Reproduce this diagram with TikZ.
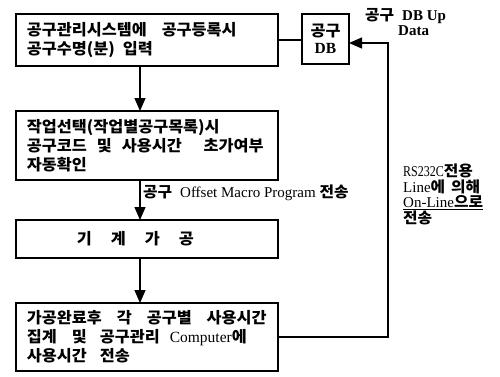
\documentclass[tikz,border=0pt]{standalone}
\usepackage{fontspec}
\setmainfont{Liberation Serif}
\newfontfamily\kr[FakeStretch=1.05]{Noto Sans CJK KR}
\newfontfamily\latf{Liberation Serif}
\newfontfamily\latcf[FakeStretch=0.8]{Liberation Serif}
\newcommand\lat{\latf\mdseries}
\newcommand\latb{\latf\bfseries}
\newcommand\latc{\latcf\mdseries}
\usetikzlibrary{arrows.meta,calc}
\newcommand\gap[1]{\hspace{#1pt}}
\tikzset{
  box/.style={draw, line width=1.4pt, rectangle, anchor=north west, outer sep=0pt,
    inner ysep=0pt, inner xsep=11pt, text width=240pt, align=left,
    font=\kr\bfseries\fontsize{15.5}{19}\selectfont},
  dbbox/.style={draw, line width=1.4pt, rectangle, anchor=north west, outer sep=0pt,
    inner sep=0pt, minimum width=47pt, minimum height=50pt, align=center,
    font=\kr\bfseries\fontsize{15.5}{19}\selectfont},
  lbl/.style={inner sep=0pt, font=\kr\bfseries\fontsize{15}{15.5}\selectfont},
  conn/.style={line width=1.3pt},
  arr/.style={line width=1.3pt, -{Triangle[length=13pt,width=11pt]}}
}
\begin{document}
\begin{tikzpicture}[x=1pt,y=-1pt]
\useasboundingbox (0,0) rectangle (500,376);
\node[box, minimum height=52pt] (b1) at (16,14)
  {공구관리시스템에\gap{15}공구등록시\\공구수명(분)\gap{8}입력};
\node[dbbox] (db) at (302,14) {공구\\[-2pt]{\latb DB}};
\node[box, minimum height=69pt] (b2) at (16,111)
  {작업선택(작업별공구목록)시\\공구코드\gap{10}및\gap{10}사용시간\gap{22}초가여부\\자동확인};
\node[box, minimum height=38pt] (b3) at (16,220)
  {\hspace*{50pt}기\gap{19}계\gap{19}가\gap{19}공};
\node[box, minimum height=68pt] (b4) at (16,303)
  {가공완료후\gap{15}각\gap{15}공구별\gap{15}사용시간\\집계\gap{15}및\gap{13}공구관리\gap{10}{\lat Computer}에\\사용시간\gap{13}전송};
\coordinate (ax) at (140,0);
\draw[arr] (b1.south -| ax) -- (b2.north -| ax);
\draw[arr] (b2.south -| ax) -- (b3.north -| ax);
\draw[arr] (b3.south -| ax) -- (b4.north -| ax);
\draw[conn] (b1.east) -- (b1.east -| db.west);
\draw[arr] (b4.east) -| ($(db.east)+(39,4)$) -- ($(db.east)+(0,4)$);
\node[lbl, anchor=north west, align=left] (lup) at (365,8)
  {공구\gap{8}{\latb DB Up}\\\hspace*{33pt}{\latb Data}};
\node[lbl, anchor=west] (loff) at (143,193)
  {공구\gap{8}{\lat Offset Macro Program}\gap{4}전송};
\node[lbl, anchor=north west, align=left] (lrs) at (403,164)
  {{\latc RS232C}전용\\{\lat Line}에\gap{6}의해\\\underline{{\lat On-Line}으로}\\전송};
\end{tikzpicture}
\end{document}
